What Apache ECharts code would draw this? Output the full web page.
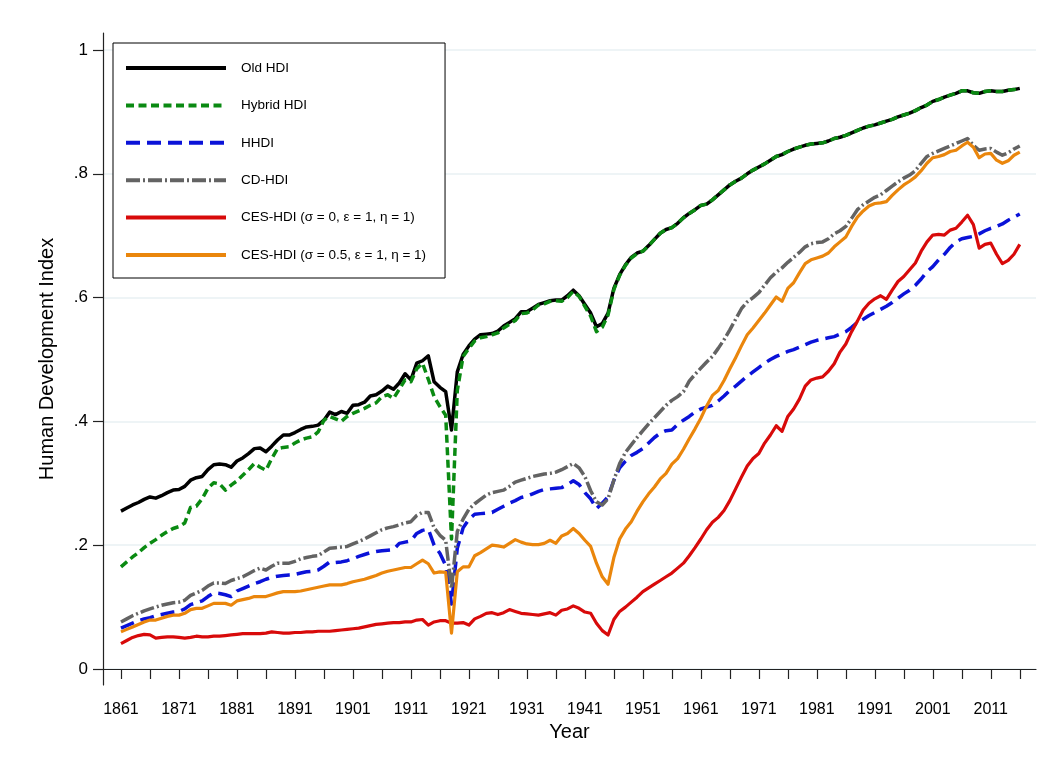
<!DOCTYPE html>
<html>
<head>
<meta charset="utf-8">
<script src="https://cdn.jsdelivr.net/npm/echarts@6/dist/echarts.min.js"></script>
<style>
html,body{margin:0;padding:0;background:#fff;}
#chart{width:1052px;height:770px;}
</style>
</head>
<body>
<div id="chart"></div>
<script>
const startYear = 1861;
const seriesNames = ['Old HDI', 'Hybrid HDI', 'HHDI', 'CD-HDI',
  'CES-HDI (\u03c3 = 0, \u03b5 = 1, \u03b7 = 1)', 'CES-HDI (\u03c3 = 0.5, \u03b5 = 1, \u03b7 = 1)'];
const yTickValues = [0, 0.2, 0.4, 0.6, 0.8, 1];
const yTickLabels = ['0', '.2', '.4', '.6', '.8', '1'];
const xLabelYears = [1861, 1871, 1881, 1891, 1901, 1911, 1921, 1931, 1941, 1951, 1961, 1971, 1981, 1991, 2001, 2011];
const xTickYears = [1861, 1866, 1871, 1876, 1881, 1886, 1891, 1896, 1901, 1906, 1911, 1916, 1921, 1926, 1931, 1936, 1941, 1946, 1951, 1956, 1961, 1966, 1971, 1976, 1981, 1986, 1991, 1996, 2001, 2006, 2011, 2016];

const oldHDI = [
  .255,.260,.265,.269,.274,.278,.276,.280,.285,.289,
  .290,.295,.305,.309,.311,.322,.330,.331,.330,.326,
  .336,.341,.348,.356,.357,.351,.360,.370,.378,.378,
  .382,.387,.391,.392,.394,.402,.415,.411,.416,.413,
  .426,.427,.431,.441,.443,.449,.457,.452,.462,.477,
  .467,.494,.498,.506,.464,.455,.448,.386,.480,.508,
  .522,.533,.540,.541,.542,.546,.554,.560,.566,.577,
  .577,.583,.589,.592,.595,.596,.596,.603,.612,.603,
  .589,.575,.553,.558,.575,.615,.637,.653,.665,.672,
  .675,.684,.694,.704,.710,.713,.720,.729,.736,.742,
  .749,.751,.758,.766,.774,.782,.788,.793,.800,.806,
  .811,.816,.822,.828,.831,.836,.840,.843,.846,.848,
  .849,.850,.853,.857,.859,.862,.866,.870,.874,.877,
  .879,.882,.885,.888,.892,.895,.898,.902,.907,.911,
  .917,.920,.924,.927,.930,.934,.934,.931,.930,.933,
  .934,.933,.933,.935,.936,.938
];
const hybridHDI = [
  .165,.173,.181,.188,.196,.203,.209,.216,.222,.227,
  .230,.236,.261,.263,.275,.292,.301,.299,.289,.297,
  .304,.313,.322,.332,.326,.321,.340,.356,.358,.359,
  .365,.370,.373,.375,.383,.402,.408,.404,.400,.408,
  .413,.417,.421,.426,.430,.440,.443,.437,.452,.467,
  .464,.485,.494,.468,.440,.424,.410,.210,.450,.505,
  .518,.530,.535,.537,.540,.543,.551,.557,.563,.574,
  .575,.580,.588,.590,.594,.595,.594,.600,.610,.602,
  .586,.570,.545,.552,.572,.613,.636,.652,.664,.671,
  .675,.684,.694,.704,.710,.713,.720,.729,.736,.742,
  .749,.751,.758,.766,.774,.782,.788,.793,.800,.806,
  .811,.816,.822,.828,.831,.836,.840,.843,.846,.848,
  .849,.850,.853,.857,.859,.862,.866,.870,.874,.877,
  .879,.882,.885,.888,.892,.895,.898,.902,.907,.911,
  .917,.920,.924,.927,.930,.934,.934,.931,.930,.933,
  .934,.933,.933,.935,.936,.938
];
const hhdi = [
  .066,.070,.074,.078,.081,.083,.086,.088,.090,.092,
  .093,.097,.104,.107,.110,.117,.123,.122,.120,.117,
  .126,.130,.134,.138,.141,.145,.148,.150,.151,.152,
  .153,.155,.157,.158,.160,.166,.173,.172,.173,.175,
  .178,.182,.185,.188,.190,.191,.192,.193,.203,.205,
  .207,.219,.224,.226,.200,.187,.167,.105,.195,.228,
  .242,.250,.251,.252,.253,.258,.263,.268,.272,.277,
  .279,.283,.287,.290,.291,.292,.293,.298,.304,.298,
  .285,.275,.259,.268,.278,.305,.325,.336,.345,.350,
  .356,.365,.374,.381,.385,.386,.395,.402,.408,.415,
  .420,.423,.426,.433,.441,.450,.457,.465,.473,.480,
  .487,.494,.500,.505,.509,.513,.516,.520,.524,.528,
  .531,.533,.535,.537,.541,.545,.552,.560,.565,.571,
  .576,.581,.586,.592,.599,.606,.612,.620,.630,.642,
  .650,.661,.670,.681,.690,.695,.697,.699,.703,.708,
  .712,.715,.719,.725,.730,.735
];
const cdHDI = [
  .076,.081,.086,.090,.094,.097,.100,.103,.105,.107,
  .108,.111,.119,.123,.127,.134,.139,.139,.138,.143,
  .146,.149,.154,.159,.163,.160,.166,.171,.171,.171,
  .174,.178,.180,.182,.183,.189,.195,.196,.197,.198,
  .202,.206,.210,.215,.220,.225,.228,.230,.233,.236,
  .238,.248,.253,.253,.228,.216,.208,.130,.222,.242,
  .258,.267,.274,.281,.285,.287,.289,.295,.302,.305,
  .308,.311,.313,.315,.316,.318,.322,.327,.332,.325,
  .311,.288,.270,.265,.275,.305,.332,.350,.362,.374,
  .385,.396,.406,.416,.426,.434,.440,.448,.465,.476,
  .486,.496,.505,.518,.532,.548,.565,.582,.593,.600,
  .608,.620,.632,.641,.648,.657,.665,.673,.682,.687,
  .689,.690,.695,.703,.708,.715,.728,.742,.750,.756,
  .762,.766,.773,.780,.787,.793,.798,.805,.817,.828,
  .833,.837,.841,.845,.849,.853,.857,.846,.838,.840,
  .841,.835,.830,.834,.840,.845
];
const cesZero = [
  .041,.046,.051,.054,.056,.055,.050,.051,.052,.052,
  .051,.050,.051,.053,.052,.052,.053,.053,.054,.055,
  .056,.057,.057,.057,.057,.058,.060,.059,.058,.058,
  .059,.059,.060,.060,.061,.061,.061,.062,.063,.064,
  .065,.066,.068,.070,.072,.073,.074,.075,.075,.076,
  .076,.079,.080,.071,.076,.078,.078,.074,.074,.075,
  .071,.081,.085,.090,.091,.088,.091,.096,.093,.090,
  .089,.088,.087,.089,.091,.087,.095,.097,.102,.098,
  .092,.090,.074,.062,.055,.080,.093,.100,.108,.116,
  .125,.131,.137,.143,.149,.155,.163,.171,.183,.196,
  .210,.225,.237,.245,.256,.272,.291,.310,.328,.340,
  .348,.365,.378,.393,.384,.408,.420,.436,.457,.467,
  .470,.472,.481,.493,.512,.525,.545,.562,.580,.591,
  .598,.603,.597,.612,.626,.634,.645,.656,.675,.690,
  .701,.702,.701,.709,.712,.722,.733,.718,.680,.686,
  .688,.670,.655,.660,.670,.686
];
const cesHalf = [
  .060,.064,.068,.072,.076,.079,.079,.082,.085,.087,
  .087,.090,.096,.098,.098,.102,.106,.106,.106,.103,
  .110,.112,.114,.117,.117,.117,.120,.123,.125,.125,
  .125,.126,.128,.130,.132,.134,.136,.136,.136,.138,
  .141,.143,.145,.148,.151,.155,.158,.160,.162,.164,
  .164,.170,.176,.170,.155,.157,.156,.058,.157,.165,
  .165,.183,.188,.194,.200,.199,.197,.203,.209,.205,
  .202,.201,.201,.203,.208,.203,.215,.219,.227,.219,
  .208,.198,.171,.149,.137,.180,.210,.226,.238,.255,
  .270,.283,.294,.307,.316,.331,.340,.355,.372,.388,
  .405,.425,.442,.450,.466,.485,.503,.522,.540,.551,
  .563,.575,.588,.601,.594,.615,.624,.640,.655,.661,
  .664,.667,.672,.682,.690,.698,.715,.730,.740,.748,
  .752,.753,.755,.765,.774,.782,.788,.795,.805,.817,
  .826,.828,.831,.836,.838,.845,.851,.843,.826,.832,
  .833,.822,.817,.821,.830,.835
];

const years = oldHDI.map((_, i) => startYear + i);
const pair = arr => arr.map((v, i) => [years[i], v]);

const FONT = '"Liberation Sans", Arial, Helvetica, sans-serif';
const styles = [
  { color: '#000000', width: 3.5, type: 'solid' },
  { color: '#0a8a12', width: 3.5, type: [8, 4.5] },
  { color: '#0a12d8', width: 3.5, type: [14, 7] },
  { color: '#636363', width: 3.5, type: [14, 3, 2, 3] },
  { color: '#d80a0a', width: 3.2, type: 'solid' },
  { color: '#ea860c', width: 3.2, type: 'solid' }
];
const dataSets = [oldHDI, hybridHDI, hhdi, cdHDI, cesZero, cesHalf];

const chart = echarts.init(document.getElementById('chart'), null, { renderer: 'canvas' });
chart.setOption({
  animation: false,
  backgroundColor: '#ffffff',
  textStyle: { fontFamily: FONT },
  grid: { left: 103, right: 16, top: 33, bottom: 85, containLabel: false },
  legend: {
    show: true,
    orient: 'vertical',
    left: 113,
    top: 43,
    padding: [18, 19, 16, 11],
    itemWidth: 100,
    itemHeight: 14,
    itemGap: 23.4,
    backgroundColor: '#ffffff',
    borderColor: '#000000',
    borderWidth: 1,
    itemStyle: { opacity: 0, borderWidth: 0 },
    lineStyle: { width: 4 },
    textStyle: { fontFamily: FONT, fontSize: 13.5, color: '#000', padding: [0, 0, 0, 10] },
    data: seriesNames.slice()
  },
  xAxis: {
    type: 'value',
    min: 1857.9,
    max: 2018.8,
    name: 'Year',
    nameLocation: 'middle',
    nameGap: 36,
    nameTextStyle: { fontFamily: FONT, fontSize: 20, color: '#000' },
    axisLine: { show: true, lineStyle: { color: '#222', width: 1.2 } },
    axisTick: { show: true, length: 10, customValues: xTickYears, lineStyle: { color: '#222', width: 1.2 } },
    axisLabel: { customValues: xLabelYears, fontFamily: FONT, fontSize: 16, color: '#000', margin: 17,
      formatter: v => String(Math.round(v)) },
    splitLine: { show: false }
  },
  yAxis: {
    type: 'value',
    min: -0.02585,
    max: 1.02746,
    name: 'Human Development Index',
    nameLocation: 'middle',
    nameGap: 46,
    nameTextStyle: { fontFamily: FONT, fontSize: 20, color: '#000' },
    axisLine: { show: true, lineStyle: { color: '#222', width: 1.2 } },
    axisTick: { show: true, length: 10, customValues: yTickValues, lineStyle: { color: '#222', width: 1.2 } },
    axisLabel: {
      customValues: yTickValues, fontFamily: FONT, fontSize: 17, color: '#000', margin: 15,
      formatter: v => { const k = yTickValues.findIndex(t => Math.abs(t - v) < 1e-6); return k >= 0 ? yTickLabels[k] : ''; }
    },
    splitLine: { show: true, lineStyle: { color: '#e9f1f3', width: 1.6 } }
  },
  series: dataSets.map((d, i) => ({
    name: seriesNames[i],
    type: 'line',
    data: pair(d),
    symbol: 'none',
    showSymbol: false,
    z: 2 + i,
    lineStyle: { color: styles[i].color, width: styles[i].width, type: styles[i].type, cap: 'butt', join: 'round' },
    itemStyle: { color: styles[i].color }
  }))
});
</script>
</body>
</html>
